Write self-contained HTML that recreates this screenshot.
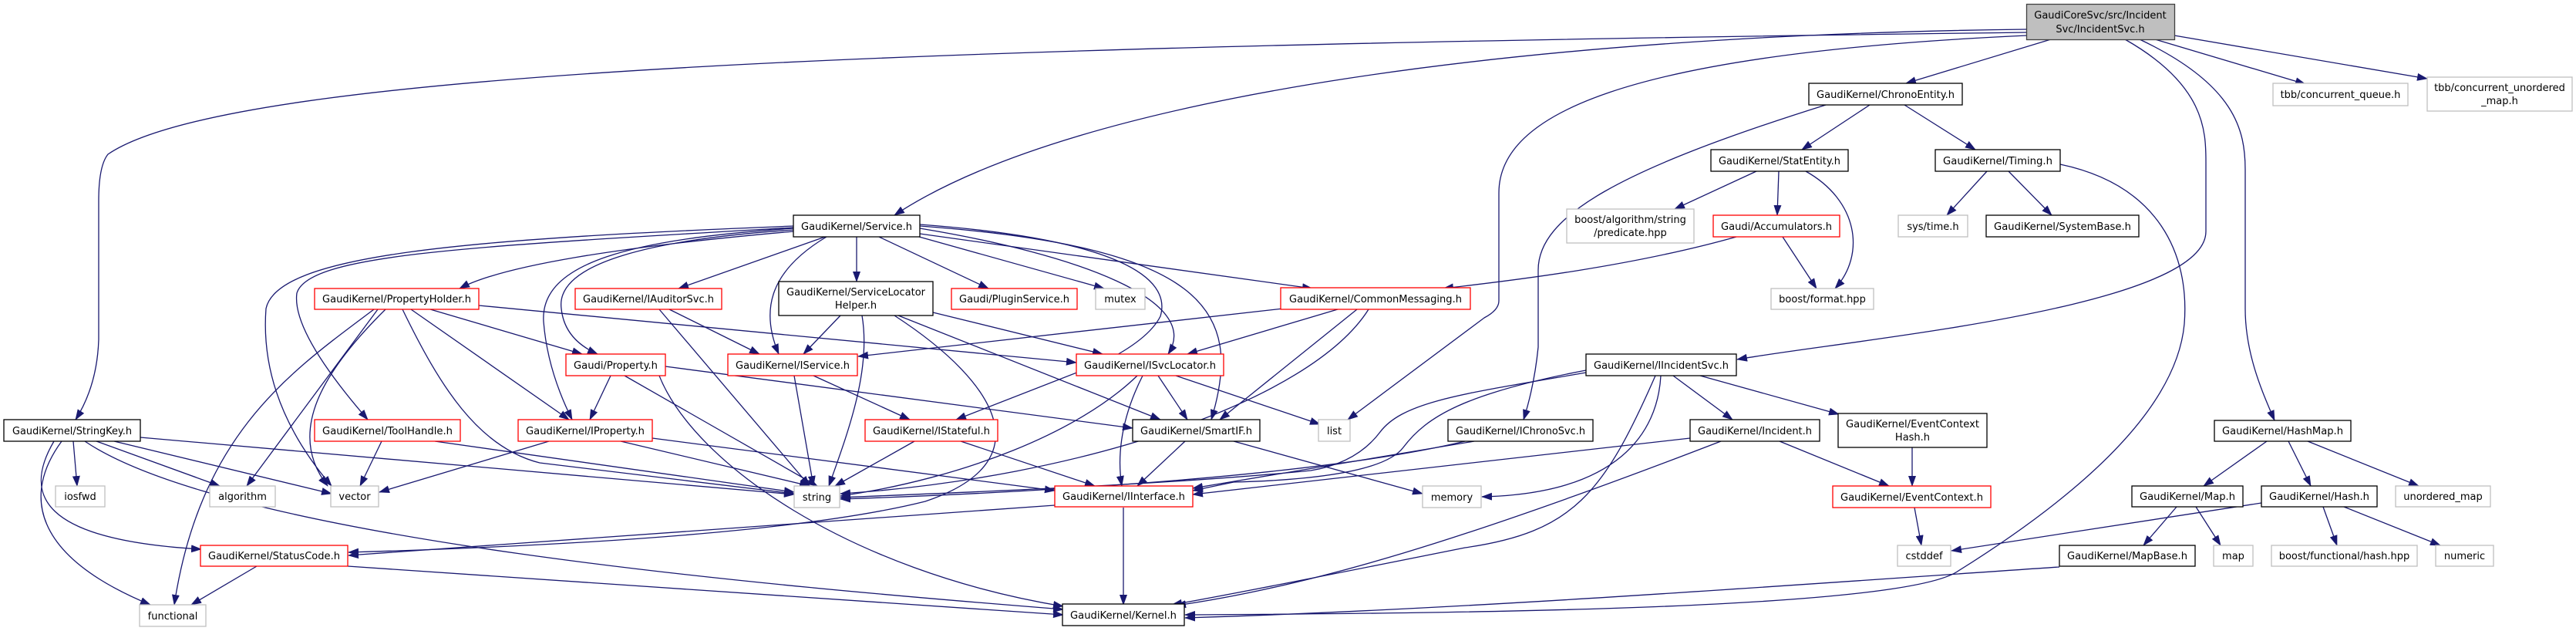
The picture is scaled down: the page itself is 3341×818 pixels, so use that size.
<!DOCTYPE html>
<html><head><meta charset="utf-8"><style>
html,body{margin:0;padding:0;background:#fff;}
svg{display:block;}
text{font-family:"DejaVu Sans","Liberation Sans",sans-serif;font-size:13px;fill:#000;}
.e{fill:none;stroke:#191970;stroke-width:1.3;marker-end:url(#a);}
.b{fill:#fff;stroke:#000;stroke-width:1.3;}
.r{fill:#fff;stroke:#ff0000;stroke-width:1.3;}
.g{fill:#fff;stroke:#bfbfbf;stroke-width:1.3;}
</style></head><body>
<svg width="3341" height="818" viewBox="0 0 3341 818" xmlns="http://www.w3.org/2000/svg">
<defs><marker id="a" markerUnits="userSpaceOnUse" markerWidth="14" markerHeight="10" refX="13" refY="5" orient="auto"><path d="M0,0 L14,5 L0,10 z" fill="#191970"/></marker></defs>
<g>
<path class="e" d="M2629,42 C1200,60 300,90 140,200 Q128,215 128,260 L128,440 Q126,500 98,544"/>
<path class="e" d="M2629,38 C2000,45 1400,120 1160,279"/>
<path class="e" d="M2629,46 C2100,70 1944,150 1944,250 L1944,390 Q1944,402 1925,412 L1748,544"/>
<path class="e" d="M2660,51 L2472,108"/>
<path class="e" d="M2756,51 C2860,110 2861,170 2861,210 L2861,300 C2861,400 2400,440 2253,466"/>
<path class="e" d="M2775,51 C2900,110 2912,170 2912,220 L2912,400 C2912,460 2935,510 2950,545"/>
<path class="e" d="M2795,51 L2990,109"/>
<path class="e" d="M2820,46 L3148,102"/>
<path class="e" d="M2425,136 L2337,194"/>
<path class="e" d="M2470,136 L2562,194"/>
<path class="e" d="M2368,136 C2100,220 1995,280 1995,350 L1995,450 Q1990,500 1976,544"/>
<path class="e" d="M2278,222 L2172,271"/>
<path class="e" d="M2307,222 L2305,279"/>
<path class="e" d="M2342,222 C2410,260 2420,330 2380,374"/>
<path class="e" d="M2312,307 L2356,374"/>
<path class="e" d="M2252,307 C2100,350 1920,368 1872,374"/>
<path class="e" d="M2577,222 L2525,279"/>
<path class="e" d="M2605,222 L2661,279"/>
<path class="e" d="M2672,213 C2800,240 2840,330 2833,420 C2820,560 2620,690 2540,740 C2470,790 1900,795 1537,797"/>
<path class="e" d="M2671,735 C2300,760 1900,790 1537,801"/>
<path class="e" d="M2940,572 L2858,630"/>
<path class="e" d="M2968,572 L2997,630"/>
<path class="e" d="M2993,572 L3137,630"/>
<path class="e" d="M2823,657 L2780,707"/>
<path class="e" d="M2848,657 L2880,707"/>
<path class="e" d="M3013,657 L3031,707"/>
<path class="e" d="M3040,657 L3165,707"/>
<path class="e" d="M2933,652 L2531,714"/>
<path class="e" d="M2170,487 L2247,544"/>
<path class="e" d="M2205,487 L2385,537"/>
<path class="e" d="M2057,483 C1900,510 1820,520 1790,560 Q1760,600 1700,610 C1500,630 1200,640 1090,645"/>
<path class="e" d="M2057,480 C1900,510 1850,540 1820,580 Q1790,620 1600,625 L1547,636"/>
<path class="e" d="M2154,487 C2150,560 2100,640 1922,644"/>
<path class="e" d="M2147,487 C2080,640 2040,690 1900,710 C1750,740 1600,770 1520,784"/>
<path class="e" d="M2308,572 L2450,630"/>
<path class="e" d="M2192,568 L1547,641"/>
<path class="e" d="M2232,572 C1900,700 1700,760 1525,785"/>
<path class="e" d="M2480,580 L2480,630"/>
<path class="e" d="M2483,658 L2492,707"/>
<path class="e" d="M1912,572 L1547,633"/>
<path class="e" d="M1900,572 C1700,620 1300,640 1090,647"/>
<path class="e" d="M1029,300 C800,320 650,345 596,374"/>
<path class="e" d="M1070,307 L880,374"/>
<path class="e" d="M1111,307 L1111,365"/>
<path class="e" d="M1140,307 L1282,374"/>
<path class="e" d="M1185,305 L1432,374"/>
<path class="e" d="M1193,303 L1702,374"/>
<path class="e" d="M1072,307 C1000,350 985,400 1010,459"/>
<path class="e" d="M1193,296 C1400,330 1560,390 1515,459"/>
<path class="e" d="M1193,293 C1560,320 1615,400 1571,544"/>
<path class="e" d="M1193,291 C1450,310 1520,360 1505,410 Q1490,440 1430,470 L1240,544"/>
<path class="e" d="M1029,295 C600,320 400,330 385,380 Q378,430 477,544"/>
<path class="e" d="M1029,293 C600,310 360,330 345,400 Q336,520 430,630"/>
<path class="e" d="M1029,298 C850,310 720,340 728,400 Q732,440 775,459"/>
<path class="e" d="M1029,296 C820,310 700,340 705,417 Q710,480 742,544"/>
<path class="e" d="M558,401 L755,459"/>
<path class="e" d="M533,401 L738,544"/>
<path class="e" d="M621,396 L1396,470"/>
<path class="e" d="M485,401 C380,480 260,560 226,784"/>
<path class="e" d="M490,401 L320,630"/>
<path class="e" d="M500,401 C420,480 370,560 425,630"/>
<path class="e" d="M522,401 C570,500 620,580 700,600 L1030,640"/>
<path class="e" d="M868,401 L985,459"/>
<path class="e" d="M855,401 L1050,630"/>
<path class="e" d="M1090,409 L1042,459"/>
<path class="e" d="M1118,409 C1130,480 1100,560 1075,630"/>
<path class="e" d="M1210,405 L1430,459"/>
<path class="e" d="M1165,409 L1505,544"/>
<path class="e" d="M1160,409 C1300,500 1350,600 1200,650 Q1000,700 452,716"/>
<path class="e" d="M1700,396 L1113,462"/>
<path class="e" d="M1760,401 L1582,544"/>
<path class="e" d="M1735,401 L1540,459"/>
<path class="e" d="M1775,401 C1700,520 1400,620 1090,640"/>
<path class="e" d="M1055,487 L1180,544"/>
<path class="e" d="M1030,487 L1055,630"/>
<path class="e" d="M1502,487 L1540,544"/>
<path class="e" d="M1482,487 C1450,550 1450,600 1455,630"/>
<path class="e" d="M1475,487 C1400,560 1250,620 1090,643"/>
<path class="e" d="M1525,487 L1712,550"/>
<path class="e" d="M1246,572 L1420,630"/>
<path class="e" d="M1186,572 L1083,630"/>
<path class="e" d="M1537,572 L1475,630"/>
<path class="e" d="M1600,572 L1845,640"/>
<path class="e" d="M1457,658 L1457,784"/>
<path class="e" d="M1368,655 L452,720"/>
<path class="e" d="M333,734 L248,784"/>
<path class="e" d="M451,734 L1379,797"/>
<path class="e" d="M95,572 L100,630"/>
<path class="e" d="M125,572 L285,630"/>
<path class="e" d="M148,572 L430,640"/>
<path class="e" d="M182,567 L1030,641"/>
<path class="e" d="M80,572 C30,640 40,720 195,784"/>
<path class="e" d="M70,572 C30,640 50,700 261,712"/>
<path class="e" d="M110,572 C300,700 1000,760 1379,790"/>
<path class="e" d="M495,572 L467,630"/>
<path class="e" d="M564,572 L1030,638"/>
<path class="e" d="M712,572 L492,638"/>
<path class="e" d="M805,572 L1050,630"/>
<path class="e" d="M846,568 L1368,636"/>
<path class="e" d="M792,487 L765,544"/>
<path class="e" d="M810,487 L1060,630"/>
<path class="e" d="M855,487 C900,600 1100,740 1379,786"/>
<path class="e" d="M863,475 L1469,555"/>
</g>
<g>
<rect x="2628.5" y="5.5" width="192" height="46" fill="#bfbfbf" stroke="#404040" stroke-width="1.3"/>
<text x="2724" y="24" text-anchor="middle">GaudiCoreSvc/src/Incident</text>
<text x="2724" y="42" text-anchor="middle">Svc/IncidentSvc.h</text>
<rect class="b" x="2346" y="108" width="199" height="28"/><text x="2445.5" y="127" text-anchor="middle" textLength="179" lengthAdjust="spacingAndGlyphs">GaudiKernel/ChronoEntity.h</text>
<rect class="b" x="2219" y="194" width="178" height="28"/><text x="2308" y="213" text-anchor="middle" textLength="158" lengthAdjust="spacingAndGlyphs">GaudiKernel/StatEntity.h</text>
<rect class="b" x="2510" y="194" width="162" height="28"/><text x="2591" y="213" text-anchor="middle" textLength="142" lengthAdjust="spacingAndGlyphs">GaudiKernel/Timing.h</text>
<rect class="g" x="2032" y="271" width="165" height="44"/><text x="2114.5" y="289" text-anchor="middle">boost/algorithm/string</text><text x="2114.5" y="306" text-anchor="middle">/predicate.hpp</text>
<rect class="r" x="2222" y="279" width="164" height="28"/><text x="2304" y="298" text-anchor="middle" textLength="144" lengthAdjust="spacingAndGlyphs">Gaudi/Accumulators.h</text>
<rect class="g" x="2462" y="279" width="90" height="28"/><text x="2507" y="298" text-anchor="middle">sys/time.h</text>
<rect class="b" x="2576" y="279" width="198" height="28"/><text x="2675" y="298" text-anchor="middle" textLength="178" lengthAdjust="spacingAndGlyphs">GaudiKernel/SystemBase.h</text>
<rect class="g" x="2948" y="108" width="175" height="29"/><text x="3035.5" y="127" text-anchor="middle">tbb/concurrent_queue.h</text>
<rect class="g" x="3148" y="100" width="188" height="44"/><text x="3242" y="118" text-anchor="middle">tbb/concurrent_unordered</text><text x="3242" y="135" text-anchor="middle">_map.h</text>
<rect class="b" x="2872" y="545" width="177" height="27"/><text x="2960.5" y="563" text-anchor="middle" textLength="157" lengthAdjust="spacingAndGlyphs">GaudiKernel/HashMap.h</text>
<rect class="b" x="2765" y="630" width="144" height="27"/><text x="2837" y="648" text-anchor="middle" textLength="124" lengthAdjust="spacingAndGlyphs">GaudiKernel/Map.h</text>
<rect class="b" x="2933" y="630" width="150" height="27"/><text x="3008" y="648" text-anchor="middle" textLength="130" lengthAdjust="spacingAndGlyphs">GaudiKernel/Hash.h</text>
<rect class="g" x="3107" y="630" width="123" height="27"/><text x="3168.5" y="648" text-anchor="middle">unordered_map</text>
<rect class="b" x="2671" y="707" width="176" height="27"/><text x="2759" y="725" text-anchor="middle" textLength="156" lengthAdjust="spacingAndGlyphs">GaudiKernel/MapBase.h</text>
<rect class="g" x="2871" y="707" width="51" height="27"/><text x="2896.5" y="725" text-anchor="middle">map</text>
<rect class="g" x="2946" y="707" width="189" height="27"/><text x="3040.5" y="725" text-anchor="middle">boost/functional/hash.hpp</text>
<rect class="g" x="3159" y="707" width="75" height="27"/><text x="3196.5" y="725" text-anchor="middle">numeric</text>
<rect class="g" x="2461" y="707" width="69" height="27"/><text x="2495.5" y="725" text-anchor="middle">cstddef</text>
<rect class="r" x="2377" y="630" width="205" height="28"/><text x="2479.5" y="649" text-anchor="middle" textLength="185" lengthAdjust="spacingAndGlyphs">GaudiKernel/EventContext.h</text>
<rect class="b" x="2384" y="536" width="193" height="44"/><text x="2480.5" y="554" text-anchor="middle" textLength="173" lengthAdjust="spacingAndGlyphs">GaudiKernel/EventContext</text><text x="2480.5" y="571" text-anchor="middle">Hash.h</text>
<rect class="b" x="2057" y="459" width="195" height="28"/><text x="2154.5" y="478" text-anchor="middle" textLength="175" lengthAdjust="spacingAndGlyphs">GaudiKernel/IIncidentSvc.h</text>
<rect class="r" x="1661" y="373" width="246" height="28"/><text x="1784" y="392" text-anchor="middle" textLength="224" lengthAdjust="spacingAndGlyphs">GaudiKernel/CommonMessaging.h</text>
<rect class="g" x="2297" y="374" width="133" height="27"/><text x="2363.5" y="392" text-anchor="middle">boost/format.hpp</text>
<rect class="g" x="1710" y="544" width="41" height="28"/><text x="1730.5" y="563" text-anchor="middle">list</text>
<rect class="b" x="1878" y="544" width="188" height="28"/><text x="1972" y="563" text-anchor="middle" textLength="168" lengthAdjust="spacingAndGlyphs">GaudiKernel/IChronoSvc.h</text>
<rect class="b" x="2192" y="544" width="168" height="28"/><text x="2276" y="563" text-anchor="middle" textLength="148" lengthAdjust="spacingAndGlyphs">GaudiKernel/Incident.h</text>
<rect class="g" x="1845" y="630" width="76" height="28"/><text x="1883" y="649" text-anchor="middle">memory</text>
<rect class="b" x="1378" y="783" width="158" height="28"/><text x="1457" y="802" text-anchor="middle" textLength="138" lengthAdjust="spacingAndGlyphs">GaudiKernel/Kernel.h</text>
<rect class="b" x="1029" y="279" width="164" height="28"/><text x="1111" y="298" text-anchor="middle" textLength="144" lengthAdjust="spacingAndGlyphs">GaudiKernel/Service.h</text>
<rect class="r" x="746" y="374" width="190" height="27"/><text x="841" y="392" text-anchor="middle" textLength="170" lengthAdjust="spacingAndGlyphs">GaudiKernel/IAuditorSvc.h</text>
<rect class="b" x="1010" y="365" width="200" height="44"/><text x="1110" y="383" text-anchor="middle" textLength="180" lengthAdjust="spacingAndGlyphs">GaudiKernel/ServiceLocator</text><text x="1110" y="400" text-anchor="middle">Helper.h</text>
<rect class="r" x="1234" y="374" width="163" height="27"/><text x="1315.5" y="392" text-anchor="middle" textLength="143" lengthAdjust="spacingAndGlyphs">Gaudi/PluginService.h</text>
<rect class="g" x="1421" y="374" width="64" height="27"/><text x="1453" y="392" text-anchor="middle">mutex</text>
<rect class="r" x="944" y="459" width="168" height="28"/><text x="1028" y="478" text-anchor="middle" textLength="148" lengthAdjust="spacingAndGlyphs">GaudiKernel/IService.h</text>
<rect class="r" x="1396" y="459" width="191" height="28"/><text x="1491.5" y="478" text-anchor="middle" textLength="171" lengthAdjust="spacingAndGlyphs">GaudiKernel/ISvcLocator.h</text>
<rect class="r" x="1122" y="544" width="172" height="28"/><text x="1208" y="563" text-anchor="middle" textLength="152" lengthAdjust="spacingAndGlyphs">GaudiKernel/IStateful.h</text>
<rect class="b" x="1469" y="544" width="165" height="28"/><text x="1551.5" y="563" text-anchor="middle" textLength="145" lengthAdjust="spacingAndGlyphs">GaudiKernel/SmartIF.h</text>
<rect class="g" x="1030" y="630" width="59" height="28"/><text x="1059.5" y="649" text-anchor="middle">string</text>
<rect class="r" x="1368" y="630" width="179" height="27"/><text x="1457.5" y="648" text-anchor="middle" textLength="159" lengthAdjust="spacingAndGlyphs">GaudiKernel/IInterface.h</text>
<rect class="b" x="5" y="544" width="177" height="28"/><text x="93.5" y="563" text-anchor="middle" textLength="155" lengthAdjust="spacingAndGlyphs">GaudiKernel/StringKey.h</text>
<rect class="r" x="408" y="374" width="213" height="27"/><text x="514.5" y="392" text-anchor="middle" textLength="193" lengthAdjust="spacingAndGlyphs">GaudiKernel/PropertyHolder.h</text>
<rect class="r" x="734" y="459" width="129" height="28"/><text x="798.5" y="478" text-anchor="middle" textLength="109" lengthAdjust="spacingAndGlyphs">Gaudi/Property.h</text>
<rect class="r" x="408" y="544" width="189" height="28"/><text x="502.5" y="563" text-anchor="middle" textLength="169" lengthAdjust="spacingAndGlyphs">GaudiKernel/ToolHandle.h</text>
<rect class="r" x="672" y="544" width="174" height="28"/><text x="759" y="563" text-anchor="middle" textLength="154" lengthAdjust="spacingAndGlyphs">GaudiKernel/IProperty.h</text>
<rect class="g" x="72" y="630" width="64" height="27"/><text x="104" y="648" text-anchor="middle">iosfwd</text>
<rect class="g" x="272" y="630" width="85" height="27"/><text x="314.5" y="648" text-anchor="middle">algorithm</text>
<rect class="g" x="429" y="630" width="62" height="27"/><text x="460" y="648" text-anchor="middle">vector</text>
<rect class="r" x="260" y="707" width="191" height="27"/><text x="355.5" y="725" text-anchor="middle" textLength="171" lengthAdjust="spacingAndGlyphs">GaudiKernel/StatusCode.h</text>
<rect class="g" x="181" y="784" width="86" height="28"/><text x="224" y="803" text-anchor="middle">functional</text>
</g>
</svg>
</body></html>
